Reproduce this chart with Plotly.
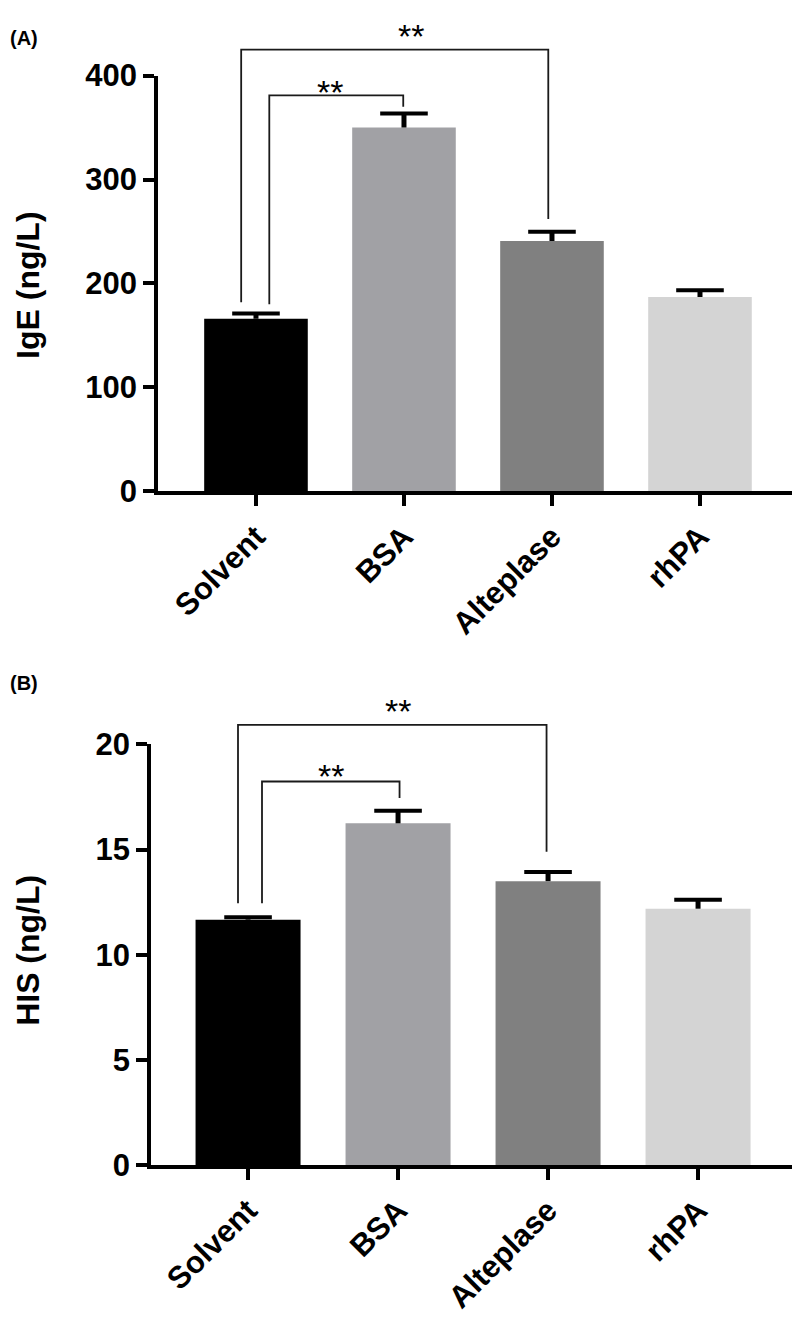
import plotly.graph_objects as go

# ---------------- data ----------------
categories = ["Solvent", "BSA", "Alteplase", "rhPA"]
ige_mean = [166, 350, 241, 187]
ige_err = [5.2, 13.5, 8.7, 6.6]
his_mean = [11.67, 16.25, 13.5, 12.19]
his_err = [0.11, 0.6, 0.44, 0.43]
bar_colors = ["#000000", "#a1a1a5", "#808080", "#d4d4d4"]
ige_ticks = [0, 100, 200, 300, 400]
his_ticks = [0, 5, 10, 15, 20]
sig_label = "**"

# significance brackets: (x_left, x_right, y_top, y_left_end, y_right_end), in data units
brackets_A = [(-0.10, 1.975, 425, 182, 262), (0.09, 0.995, 381, 180, 370)]
brackets_B = [(-0.067, 1.99, 20.93, 12.45, 14.9), (0.093, 1.01, 18.24, 12.45, 17.45)]
# star label positions: (x in category units, y in data units)
stars_A = [(1.05, 438), (0.50, 384)]
stars_B = [(1.00, 21.57), (0.55, 18.52)]

W, H = 800, 1324
OFF = 8  # page body margin
FONT = "Liberation Sans, Arial, sans-serif"


def py(px):
    """reference pixel row -> paper fraction"""
    return 1 - (px - OFF) / H


def pxx(px):
    """reference pixel column -> paper fraction"""
    return (px - OFF) / W


fig = go.Figure()

for mean, err, xa, ya in [(ige_mean, ige_err, "x", "y"), (his_mean, his_err, "x2", "y2")]:
    fig.add_trace(go.Bar(
        x=categories, y=mean, marker=dict(color=bar_colors, line=dict(width=0)),
        width=0.70,
        error_y=dict(type="data", array=err, arrayminus=[0] * len(err), symmetric=False,
                     color="black", thickness=5, width=0),
        xaxis=xa, yaxis=ya, showlegend=False, hoverinfo="skip"))
    fig.add_trace(go.Scatter(
        x=categories, y=[m + e for m, e in zip(mean, err)], mode="markers",
        marker=dict(symbol="line-ew", size=34, color="black",
                    line=dict(width=4, color="black")),
        cliponaxis=False, xaxis=xa, yaxis=ya, showlegend=False, hoverinfo="skip"))

tickfont = dict(family=FONT, size=31, color="black", weight="bold")
axis_common = dict(showline=True, linewidth=3.5, linecolor="black", ticks="outside",
                   ticklen=11, tickwidth=3.5, tickcolor="black", showgrid=False,
                   zeroline=False, tickfont=tickfont)

fig.update_layout(
    width=W, height=H, margin=dict(l=0, r=0, t=0, b=0),
    paper_bgcolor="white", plot_bgcolor="white",
    xaxis=dict(domain=[pxx(158), pxx(799)], range=[-0.662, 3.669], anchor="y",
               tickangle=-45, type="category", **axis_common),
    yaxis=dict(domain=[py(487), py(60)], range=[0, 400], anchor="x",
               tickvals=ige_ticks, **axis_common),
    xaxis2=dict(domain=[pxx(151), pxx(799)], range=[-0.647, 3.673], anchor="y2",
                tickangle=-45, type="category", **axis_common),
    yaxis2=dict(domain=[py(1179), py(747)], range=[0, 20], anchor="x2",
                tickvals=his_ticks, **axis_common),
)

shapes = []
annots = []
for brackets, xr, yr, ymax in [(brackets_A, "x", "y", 400), (brackets_B, "x2", "y2", 20)]:
    for (xl, xrr, yt, yle, yre) in brackets:
        path = (f"M {xl} {yle / ymax} L {xl} {yt / ymax} L {xrr} {yt / ymax} "
                f"L {xrr} {yre / ymax}")
        shapes.append(dict(type="path", path=path, xref=xr, yref=yr + " domain",
                           line=dict(color="#1a1a1a", width=1.8)))
for stars, xr, yr, ymax in [(stars_A, "x", "y", 400), (stars_B, "x2", "y2", 20)]:
    for (sx, sy) in stars:
        annots.append(dict(text=sig_label, x=sx, y=sy / ymax, xref=xr, yref=yr + " domain",
                           showarrow=False, xanchor="center", yanchor="middle",
                           font=dict(family=FONT, size=34, color="black")))

title_font = dict(family=FONT, size=32, color="black", weight="bold")
annots.append(dict(text="IgE (ng/L)", x=0, y=py(275), xref="paper", yref="paper",
                   textangle=-90, showarrow=False, xanchor="left", yanchor="middle",
                   font=title_font))
annots.append(dict(text="HIS (ng/L)", x=0, y=py(959), xref="paper", yref="paper",
                   textangle=-90, showarrow=False, xanchor="left", yanchor="middle",
                   font=title_font))
label_font = dict(family=FONT, size=20, color="black", weight="bold")
annots.append(dict(text="(A)", x=0, y=1, xref="paper", yref="paper", showarrow=False,
                   xanchor="left", yanchor="top", font=label_font))
annots.append(dict(text="(B)", x=0, y=py(684), xref="paper", yref="paper", showarrow=False,
                   xanchor="left", yanchor="middle", font=label_font))

fig.update_layout(shapes=shapes, annotations=annots)

fig.write_html("out.html")
